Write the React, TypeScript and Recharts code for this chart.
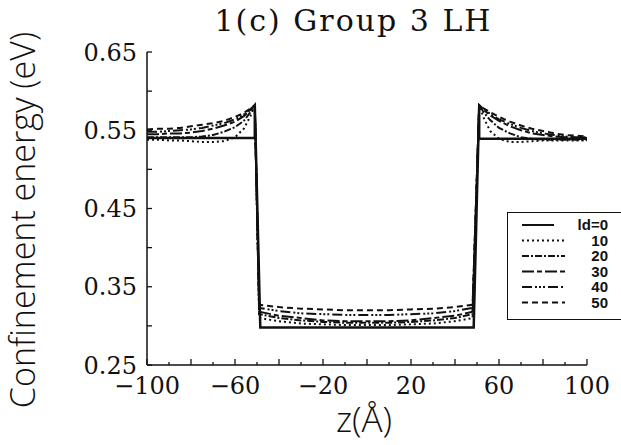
import React from 'react';
import { LineChart, Line, XAxis, YAxis, Legend } from 'recharts';

// z positions (Å) where the curves were read
const barrierLeftZ = [-100, -95, -90, -85, -80, -75, -70, -65, -60, -56, -53, -51];
const wellZ = [-49, -40, -30, -20, -10, 0, 10, 20, 30, 40, 48];
const barrierRightZ = [51, 53, 56, 60, 65, 70, 75, 80, 85, 90, 95, 100];

// ld = 0 : abrupt square well
const ld0Z = [-100, -51, -51, -48.5, 48.5, 51, 51, 100];
const ld0E = [0.54, 0.54, 0.582, 0.298, 0.298, 0.582, 0.539, 0.539];

// confinement energy (eV), left barrier / well / right barrier
const ld10Left = [0.538, 0.538, 0.537, 0.537, 0.536, 0.535, 0.535, 0.536, 0.541, 0.552, 0.568, 0.582];
const ld20Left = [0.541, 0.541, 0.541, 0.541, 0.541, 0.542, 0.544, 0.548, 0.554, 0.562, 0.573, 0.582];
const ld30Left = [0.545, 0.545, 0.546, 0.546, 0.547, 0.549, 0.552, 0.556, 0.561, 0.568, 0.576, 0.582];
const ld40Left = [0.548, 0.548, 0.549, 0.55, 0.551, 0.553, 0.556, 0.559, 0.564, 0.57, 0.577, 0.582];
const ld50Left = [0.551, 0.552, 0.552, 0.553, 0.555, 0.557, 0.559, 0.562, 0.567, 0.572, 0.578, 0.582];

const ld10Well = [0.31, 0.306, 0.303, 0.302, 0.301, 0.301, 0.301, 0.302, 0.303, 0.306, 0.31];
const ld20Well = [0.315, 0.31, 0.307, 0.305, 0.304, 0.304, 0.304, 0.305, 0.307, 0.31, 0.315];
const ld30Well = [0.318, 0.313, 0.31, 0.307, 0.306, 0.306, 0.306, 0.307, 0.31, 0.313, 0.318];
const ld40Well = [0.323, 0.319, 0.316, 0.315, 0.314, 0.314, 0.314, 0.315, 0.316, 0.319, 0.323];
const ld50Well = [0.327, 0.324, 0.322, 0.321, 0.32, 0.32, 0.32, 0.321, 0.322, 0.324, 0.327];

const ld10Right = [0.582, 0.566, 0.549, 0.539, 0.535, 0.535, 0.536, 0.537, 0.537, 0.537, 0.537, 0.537];
const ld20Right = [0.582, 0.573, 0.563, 0.553, 0.546, 0.541, 0.539, 0.538, 0.538, 0.538, 0.538, 0.538];
const ld30Right = [0.582, 0.576, 0.569, 0.562, 0.555, 0.55, 0.546, 0.544, 0.542, 0.541, 0.54, 0.54];
const ld40Right = [0.582, 0.577, 0.571, 0.564, 0.558, 0.553, 0.549, 0.546, 0.544, 0.542, 0.541, 0.541];
const ld50Right = [0.582, 0.578, 0.573, 0.567, 0.561, 0.556, 0.552, 0.549, 0.546, 0.544, 0.543, 0.542];

const xLabelTicks = [-100, -60, -20, 20, 60, 100];
const xMinorTicks = [-100, -90, -80, -70, -60, -50, -40, -30, -20, -10, 0, 10, 20, 30, 40, 50, 60, 70, 80, 90, 100];
const yLabelTicks = [0.25, 0.35, 0.45, 0.55, 0.65];
const yMinorTicks = [0.25, 0.3, 0.35, 0.4, 0.45, 0.5, 0.55, 0.6, 0.65];

const allZ = [...barrierLeftZ, ...wellZ, ...barrierRightZ];
const toRows = (zs: number[], es: number[]) => zs.map((z, i) => ({ z, e: es[i] }));

const series = [
  { name: 'ld=0', dash: undefined, width: 2.5, rows: toRows(ld0Z, ld0E) },
  { name: '10', dash: '2 3', width: 2, rows: toRows(allZ, [...ld10Left, ...ld10Well, ...ld10Right]) },
  { name: '20', dash: '7 2 2 2', width: 2, rows: toRows(allZ, [...ld20Left, ...ld20Well, ...ld20Right]) },
  { name: '30', dash: '12 3 5 3', width: 2, rows: toRows(allZ, [...ld30Left, ...ld30Well, ...ld30Right]) },
  { name: '40', dash: '10 3 2 2 2 2 2 3', width: 2, rows: toRows(allZ, [...ld40Left, ...ld40Well, ...ld40Right]) },
  { name: '50', dash: '6 4', width: 2, rows: toRows(allZ, [...ld50Left, ...ld50Well, ...ld50Right]) },
];

const INK = '#111';
const SERIF = '"DejaVu Serif", serif';
const SANS = '"Open Sans", sans-serif';
const X_MARGIN = 12;
const Y_MARGIN = 10;

const fmtX = (v: number) => (v < 0 ? `\u2212${Math.abs(v)}` : `${v}`);

// inward tick marks + label for the z axis
const XTick = (props: any) => {
  const { x, y, payload } = props;
  const v = payload.value;
  const axisY = y - X_MARGIN;
  const len = v % 20 === 0 ? 6 : 3;
  return (
    <g>
      <line x1={x} x2={x} y1={axisY} y2={axisY - len} stroke={INK} strokeWidth={1.3} />
      {xLabelTicks.includes(v) && (
        <text x={x} y={y} dy="0.71em" textAnchor="middle" fontFamily={SERIF} fontSize={24} fill={INK}>
          {fmtX(v)}
        </text>
      )}
    </g>
  );
};

const YTick = (props: any) => {
  const { x, y, payload } = props;
  const v = Math.round(payload.value * 100) / 100;
  const axisX = x + Y_MARGIN;
  return (
    <g>
      <line x1={axisX} x2={axisX + 5} y1={y} y2={y} stroke={INK} strokeWidth={1.3} />
      {yLabelTicks.includes(v) && (
        <text x={x} y={y} dy="0.355em" textAnchor="end" fontFamily={SERIF} fontSize={24} fill={INK}>
          {v.toFixed(2)}
        </text>
      )}
    </g>
  );
};

const LegendBox = () => (
  <div style={{ background: '#fff', border: `1.5px solid ${INK}`, width: 130, height: 108, boxSizing: 'border-box' }}>
    <svg width={128} height={105} style={{ display: 'block' }}>
      {series.map((s, i) => {
        const y = 12 + i * 15.5;
        return (
          <g key={s.name}>
            <line
              x1={14}
              x2={s.name === 'ld=0' ? 46 : 57}
              y1={y}
              y2={y}
              stroke={INK}
              strokeWidth={2}
              strokeDasharray={s.dash}
            />
            <text x={100} y={y} dy="0.35em" textAnchor="end" fontFamily='"Liberation Sans", sans-serif' fontWeight="bold" fontSize={15} fill={INK}>
              {s.name}
            </text>
          </g>
        );
      })}
    </svg>
  </div>
);

export default function App() {
  return (
    <div style={{ position: 'absolute', left: 0, top: 0, width: 621, height: 445, overflow: 'hidden', background: '#fff' }}>
      <div
        style={{
          position: 'absolute',
          left: 0,
          width: 621,
          top: 5,
          textAlign: 'center',
          paddingLeft: 86,
          boxSizing: 'border-box',
          fontFamily: SERIF,
          fontSize: 30,
          letterSpacing: 2,
          lineHeight: '32px',
          color: INK,
          zIndex: 2,
        }}
      >
        1(c) Group 3 LH
      </div>
      <LineChart width={621} height={445} margin={{ top: 52, right: 34, left: 0, bottom: 0 }}>
        <XAxis
          dataKey="z"
          type="number"
          domain={[-100, 100]}
          ticks={xMinorTicks}
          interval={0}
          tickSize={0}
          tickMargin={X_MARGIN}
          tickLine={false}
          tick={XTick}
          height={80}
          axisLine={{ stroke: INK, strokeWidth: 1.5 }}
          label={() => (
            <text x={364} y={432} textAnchor="middle" fontFamily={SANS} fontWeight={300} fontSize={35} fill={INK}>
              z(Å)
            </text>
          )}
        />
        <XAxis xAxisId="top" orientation="top" type="number" domain={[-100, 100]} height={0} tick={false} tickLine={false} axisLine={{ stroke: INK, strokeWidth: 1.5 }} />
        <YAxis
          type="number"
          domain={[0.25, 0.65]}
          ticks={yMinorTicks}
          interval={0}
          tickSize={0}
          tickMargin={Y_MARGIN}
          tickLine={false}
          tick={YTick}
          width={147}
          axisLine={{ stroke: INK, strokeWidth: 1.5 }}
          label={() => (
            <text x={35} y={220} transform="rotate(-90 35 220)" textAnchor="middle" fontFamily={SANS} fontWeight={300} fontSize={34} fill={INK}>
              Confinement energy (eV)
            </text>
          )}
        />
        <YAxis yAxisId="right" orientation="right" type="number" domain={[0.25, 0.65]} width={0} tick={false} tickLine={false} axisLine={{ stroke: INK, strokeWidth: 1.5 }} />
        {series.map((s) => (
          <Line
            key={s.name}
            data={s.rows}
            dataKey="e"
            name={s.name}
            type="linear"
            stroke={INK}
            strokeWidth={s.width}
            strokeDasharray={s.dash}
            dot={false}
            activeDot={false}
            isAnimationActive={false}
          />
        ))}
        <Legend
          layout="vertical"
          align="center"
          verticalAlign="middle"
          content={LegendBox}
          wrapperStyle={{ left: 507, top: 212, width: 130, height: 108 }}
        />
      </LineChart>
    </div>
  );
}
